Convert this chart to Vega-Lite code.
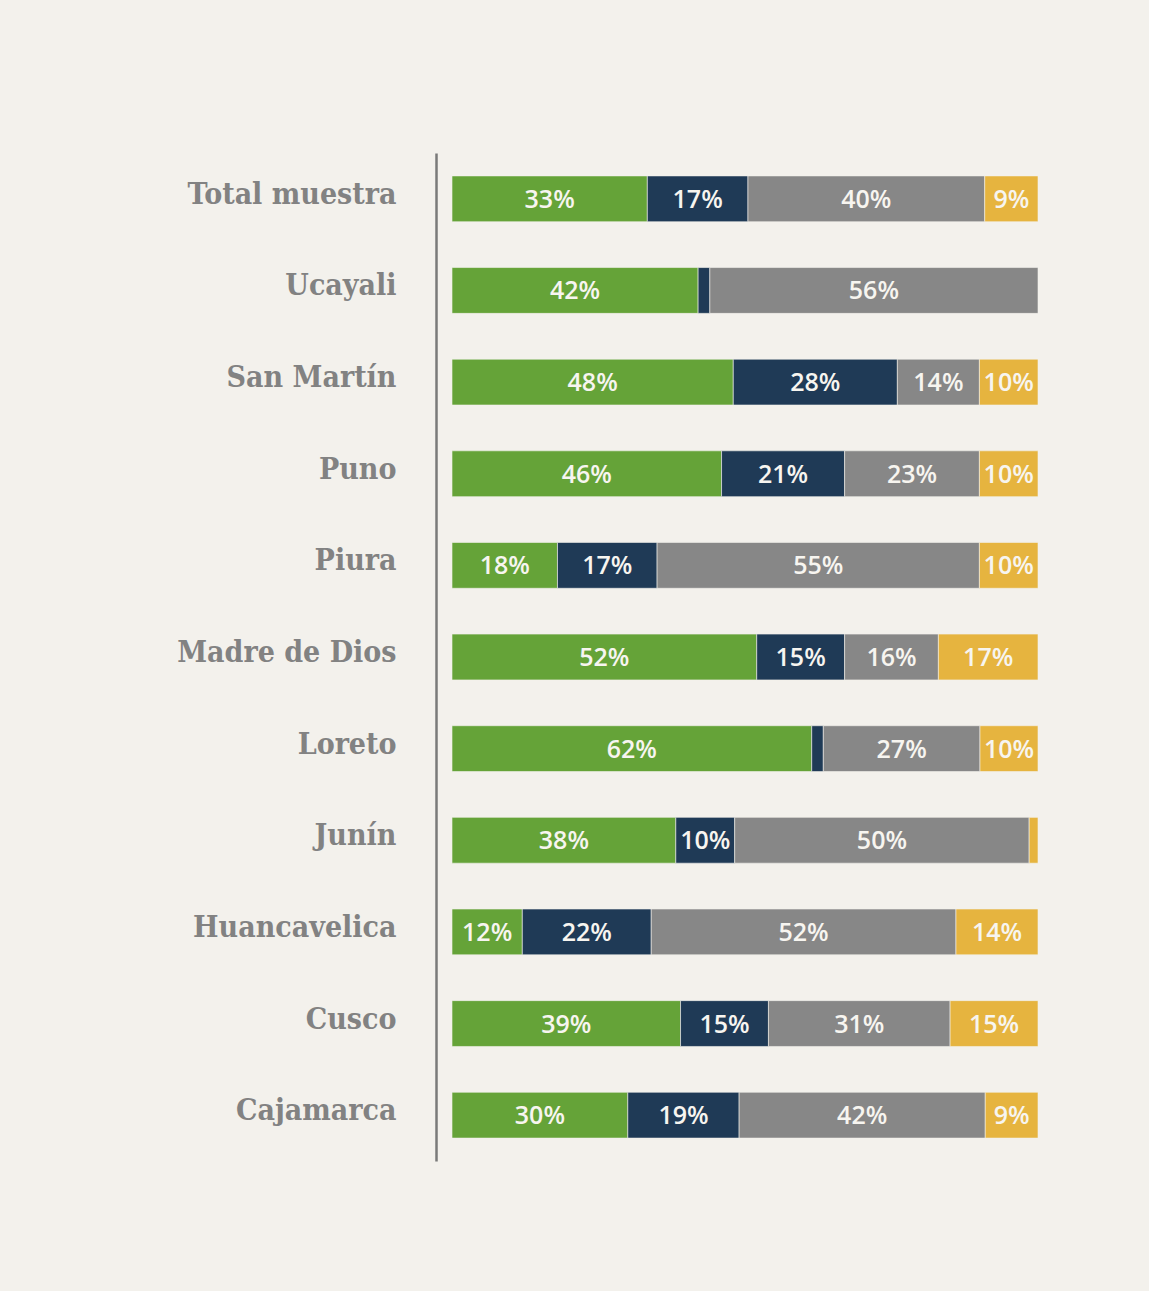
{
  "$schema": "https://vega.github.io/schema/vega-lite/v6.json",
  "autosize": {"type": "none"},
  "padding": {"left": 452, "top": 153, "right": 111, "bottom": 130},
  "width": 586,
  "height": 1008,
  "background": "#f3f1ec",
  "config": {"view": {"stroke": null}},
  "data": {"values": [
    {"region": "Total muestra", "serie": "A", "orden": 1, "value": 33, "label": "33%"},
    {"region": "Total muestra", "serie": "B", "orden": 2, "value": 17, "label": "17%"},
    {"region": "Total muestra", "serie": "C", "orden": 3, "value": 40, "label": "40%"},
    {"region": "Total muestra", "serie": "D", "orden": 4, "value": 9, "label": "9%"},
    {"region": "Ucayali", "serie": "A", "orden": 1, "value": 42, "label": "42%"},
    {"region": "Ucayali", "serie": "B", "orden": 2, "value": 2, "label": ""},
    {"region": "Ucayali", "serie": "C", "orden": 3, "value": 56, "label": "56%"},
    {"region": "San Martín", "serie": "A", "orden": 1, "value": 48, "label": "48%"},
    {"region": "San Martín", "serie": "B", "orden": 2, "value": 28, "label": "28%"},
    {"region": "San Martín", "serie": "C", "orden": 3, "value": 14, "label": "14%"},
    {"region": "San Martín", "serie": "D", "orden": 4, "value": 10, "label": "10%"},
    {"region": "Puno", "serie": "A", "orden": 1, "value": 46, "label": "46%"},
    {"region": "Puno", "serie": "B", "orden": 2, "value": 21, "label": "21%"},
    {"region": "Puno", "serie": "C", "orden": 3, "value": 23, "label": "23%"},
    {"region": "Puno", "serie": "D", "orden": 4, "value": 10, "label": "10%"},
    {"region": "Piura", "serie": "A", "orden": 1, "value": 18, "label": "18%"},
    {"region": "Piura", "serie": "B", "orden": 2, "value": 17, "label": "17%"},
    {"region": "Piura", "serie": "C", "orden": 3, "value": 55, "label": "55%"},
    {"region": "Piura", "serie": "D", "orden": 4, "value": 10, "label": "10%"},
    {"region": "Madre de Dios", "serie": "A", "orden": 1, "value": 52, "label": "52%"},
    {"region": "Madre de Dios", "serie": "B", "orden": 2, "value": 15, "label": "15%"},
    {"region": "Madre de Dios", "serie": "C", "orden": 3, "value": 16, "label": "16%"},
    {"region": "Madre de Dios", "serie": "D", "orden": 4, "value": 17, "label": "17%"},
    {"region": "Loreto", "serie": "A", "orden": 1, "value": 62, "label": "62%"},
    {"region": "Loreto", "serie": "B", "orden": 2, "value": 2, "label": ""},
    {"region": "Loreto", "serie": "C", "orden": 3, "value": 27, "label": "27%"},
    {"region": "Loreto", "serie": "D", "orden": 4, "value": 10, "label": "10%"},
    {"region": "Junín", "serie": "A", "orden": 1, "value": 38, "label": "38%"},
    {"region": "Junín", "serie": "B", "orden": 2, "value": 10, "label": "10%"},
    {"region": "Junín", "serie": "C", "orden": 3, "value": 50, "label": "50%"},
    {"region": "Junín", "serie": "D", "orden": 4, "value": 1.5, "label": ""},
    {"region": "Huancavelica", "serie": "A", "orden": 1, "value": 12, "label": "12%"},
    {"region": "Huancavelica", "serie": "B", "orden": 2, "value": 22, "label": "22%"},
    {"region": "Huancavelica", "serie": "C", "orden": 3, "value": 52, "label": "52%"},
    {"region": "Huancavelica", "serie": "D", "orden": 4, "value": 14, "label": "14%"},
    {"region": "Cusco", "serie": "A", "orden": 1, "value": 39, "label": "39%"},
    {"region": "Cusco", "serie": "B", "orden": 2, "value": 15, "label": "15%"},
    {"region": "Cusco", "serie": "C", "orden": 3, "value": 31, "label": "31%"},
    {"region": "Cusco", "serie": "D", "orden": 4, "value": 15, "label": "15%"},
    {"region": "Cajamarca", "serie": "A", "orden": 1, "value": 30, "label": "30%"},
    {"region": "Cajamarca", "serie": "B", "orden": 2, "value": 19, "label": "19%"},
    {"region": "Cajamarca", "serie": "C", "orden": 3, "value": 42, "label": "42%"},
    {"region": "Cajamarca", "serie": "D", "orden": 4, "value": 9, "label": "9%"}
  ]},
  "encoding": {
    "y": {
      "field": "region", "type": "nominal", "sort": null,
      "scale": {"paddingInner": 0.5, "paddingOuter": 0.25},
      "axis": {
        "title": null, "ticks": false, "offset": 16,
        "domainColor": "#7a7a7a", "domainWidth": 2.5,
        "labelPadding": 40, "labelLimit": 0, "labelFont": "DejaVu Serif Condensed", "labelFontSize": 30,
        "labelFontWeight": "bold", "labelColor": "#828282", "labelOffset": -4
      }
    }
  },
  "layer": [
    {
      "mark": {"type": "bar", "stroke": "#f3f1ec", "strokeWidth": 0.6},
      "encoding": {
        "x": {"field": "value", "type": "quantitative", "stack": "normalize", "axis": null, "scale": {"domain": [0, 1], "nice": false}},
        "color": {"field": "serie", "type": "nominal", "legend": null,
          "scale": {"domain": ["A", "B", "C", "D"], "range": ["#65a338", "#1f3a56", "#878787", "#e6b43f"]}},
        "order": {"field": "orden", "type": "quantitative"}
      }
    },
    {
      "mark": {"type": "text", "color": "#f7f5f0", "font": "Open Sans", "fontSize": 25, "fontWeight": 600, "baseline": "middle", "align": "center", "dy": 1},
      "encoding": {
        "x": {"field": "value", "type": "quantitative", "stack": "normalize", "bandPosition": 0.5},
        "text": {"field": "label"},
        "detail": {"field": "serie"},
        "order": {"field": "orden", "type": "quantitative"}
      }
    }
  ]
}
